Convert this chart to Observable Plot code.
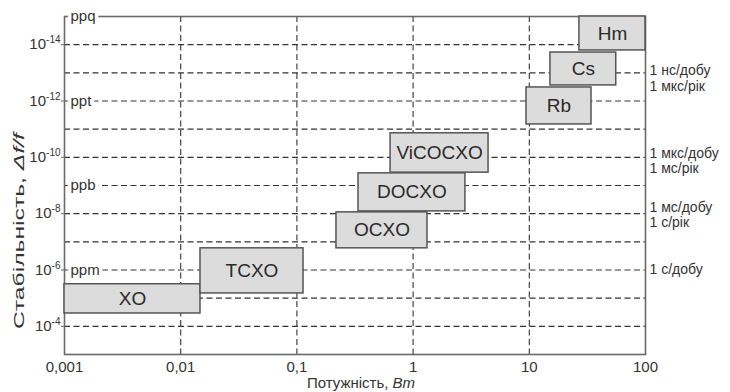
<!DOCTYPE html>
<html><head><meta charset="utf-8">
<script src="https://cdn.jsdelivr.net/npm/d3@7"></script>
<script src="https://cdn.jsdelivr.net/npm/@observablehq/plot@0.6"></script>
<style>
body{margin:0;background:#fff}
#chart svg{font-family:"Liberation Sans",Arial,sans-serif;background:#fff}
</style>
</head><body><div id="chart"></div>
<script>
// Oscillator types: power range (W) and stability range (Δf/f)
const names     = ["XO","TCXO","OCXO","DOCXO","ViCOCXO","Rb","Cs","Hm"];
const powerMin  = [0.001, 0.0148, 0.219, 0.339, 0.64, 9.46, 15.2, 27];
const powerMax  = [0.0148, 0.114, 1.33, 2.82, 4.46, 34.3, 56, 100];
const stabBest  = [3.2e-6, 1.7e-7, 9e-9, 3.7e-10, 1.4e-11, 3.3e-13, 1.9e-14, 1e-15];
const stabWorst = [3.5e-5, 6.8e-6, 1.7e-7, 8.3e-9, 3.5e-10, 6.8e-12, 2.8e-13, 1.6e-14];

const xTicks = [0.001, 0.01, 0.1, 1, 10, 100];
const xTickLabels = ["0,001", "0,01", "0,1", "1", "10", "100"];
const xGrid = [0.01, 0.1, 1, 10];
const yTicks = [1e-14, 1e-12, 1e-10, 1e-8, 1e-6, 1e-4];
const yTickExp = ["-14", "-12", "-10", "-8", "-6", "-4"];
const yGrid = [1e-14, 1e-13, 1e-12, 1e-11, 1e-10, 1e-9, 1e-8, 1e-7, 1e-6, 1e-5, 1e-4];
const ppLabels = ["ppq", "ppt", "ppb", "ppm"];
const ppValues = [1e-15, 1e-12, 1e-9, 1e-6];
const rightLabels = ["1 нс/добу", "1 мкс/рік", "1 мкс/добу", "1 мс/рік", "1 мс/добу", "1 с/рік", "1 с/добу"];
const rightValues = [8.3e-14, 2.95e-13, 7.2e-11, 2.5e-10, 6.0e-9, 2.04e-8, 9.5e-7];

const boxes = names.map((n, i) => ({name: n, x1: powerMin[i], x2: powerMax[i], y1: stabBest[i], y2: stabWorst[i]}));
const pp = ppLabels.map((t, i) => ({t, v: ppValues[i]}));
const rl = rightLabels.map((t, i) => ({t, v: rightValues[i]}));
const near = (arr, d) => arr.findIndex(v => Math.abs(Math.log10(v) - Math.log10(d)) < 1e-6);

const plot = Plot.plot({
  width: 730,
  height: 392,
  marginLeft: 64,
  marginRight: 85,
  marginTop: 16,
  marginBottom: 38,
  style: {fontSize: "15px", fontFamily: "'Liberation Sans', Arial, sans-serif", color: "#333"},
  x: {type: "log", domain: [0.001, 100]},
  y: {type: "log", domain: [1e-3, 1e-15]},
  marks: [
    Plot.ruleY(yGrid, {stroke: "#333", strokeWidth: 1.1, strokeDasharray: "6,3.5"}),
    Plot.ruleX(xGrid, {stroke: "#333", strokeWidth: 1.1, strokeDasharray: "6,3.5"}),
    Plot.frame({stroke: "#6a6a6a", strokeWidth: 1.6}),
    Plot.rect(boxes, {x1: "x1", x2: "x2", y1: "y1", y2: "y2", fill: "#dcdcdc", stroke: "#555", strokeWidth: 1.5}),
    Plot.text(boxes, {x: d => Math.sqrt(d.x1 * d.x2), y: d => Math.sqrt(d.y1 * d.y2), text: "name", fontSize: 19, fill: "#2a2a2a"}),
    Plot.text(pp, {x: 0.001, y: "v", text: "t", dx: 6, textAnchor: "start", fill: "#333", stroke: "white", strokeWidth: 7, paintOrder: "stroke"}),
    Plot.text(rl, {x: 100, y: "v", text: "t", dx: 4, textAnchor: "start", fill: "#333", fontSize: 14}),
    Plot.axisX({ticks: xTicks, tickFormat: d => xTickLabels[near(xTicks, d)], tickSize: 0, tickPadding: 7, label: null, fill: "#333"}),
    Plot.axisY({ticks: yTicks, tickFormat: d => "10^" + yTickExp[near(yTicks, d)], tickSize: 3, tickPadding: 1, label: null, fill: "#333", stroke: "#6a6a6a"})
  ]
});

const svg = d3.select(plot);
// superscript exponents on y tick labels
svg.selectAll("text").each(function() {
  const s = this.textContent;
  const m = /^10\^(.+)$/.exec(s);
  if (m) {
    const t = d3.select(this);
    t.text("");
    t.append("tspan").text("10");
    t.append("tspan").attr("font-size", 10).attr("dy", "-0.6em").text(m[1]);
  }
});
// x axis title
const xt = svg.append("text").attr("x", 361).attr("y", 388).attr("text-anchor", "middle")
  .attr("font-size", 15).attr("fill", "#333");
xt.append("tspan").text("Потужність, ");
xt.append("tspan").attr("font-style", "italic").text("Вт");
// y axis title
const yt = svg.append("text").attr("transform", "translate(24,231) rotate(-90)").attr("text-anchor", "middle")
  .attr("font-size", 15).attr("fill", "#333")
  .attr("textLength", 196).attr("lengthAdjust", "spacingAndGlyphs");
yt.append("tspan").text("Стабільність, ");
yt.append("tspan").attr("font-style", "italic").text("Δf/f");

document.getElementById("chart").append(plot);
</script>
</body></html>
